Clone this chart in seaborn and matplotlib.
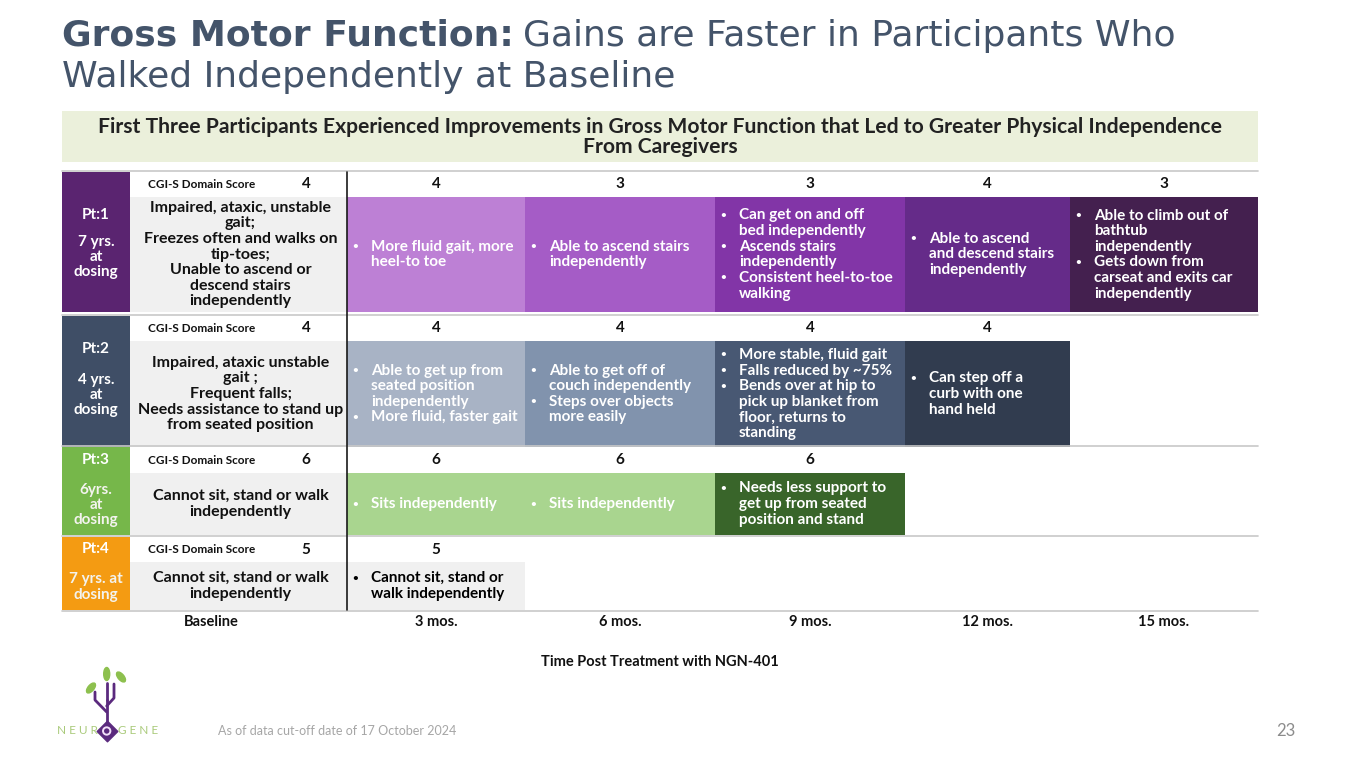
import matplotlib
matplotlib.use("Agg")
import matplotlib.pyplot as plt
import seaborn as sns
from matplotlib.patches import Ellipse

# ---- data ----
time_labels = ["Baseline", "3 mos.", "6 mos.", "9 mos.", "12 mos.", "15 mos."]

pt1_scores = [4, 4, 3, 3, 4, 3]
pt2_scores = [4, 4, 4, 4, 4]
pt3_scores = [6, 6, 6, 6]
pt4_scores = [5, 5]

pt_names = ["Pt:1", "Pt:2", "Pt:3", "Pt:4"]
pt_ages = ["7 yrs.\nat\ndosing", "4 yrs.\nat\ndosing", "6yrs.\nat\ndosing", "7 yrs. at\ndosing"]

pt1_baseline = "Impaired, ataxic, unstable\ngait;\nFreezes often and walks on\ntip-toes;\nUnable to ascend or\ndescend stairs\nindependently"
pt2_baseline = "Impaired, ataxic unstable\ngait ;\nFrequent falls;\nNeeds assistance to stand up\nfrom seated position"
pt3_baseline = "Cannot sit, stand or walk\nindependently"
pt4_baseline = "Cannot sit, stand or walk\nindependently"

pt1_notes = [
    ["More fluid gait, more\nheel-to toe"],
    ["Able to ascend stairs\nindependently"],
    ["Can get on and off\nbed independently", "Ascends stairs\nindependently", "Consistent heel-to-toe\nwalking"],
    ["Able to ascend\nand descend stairs\nindependently"],
    ["Able to climb out of\nbathtub\nindependently", "Gets down from\ncarseat and exits car\nindependently"],
]
pt2_notes = [
    ["Able to get up from\nseated position\nindependently", "More fluid, faster gait"],
    ["Able to get off of\ncouch independently", "Steps over objects\nmore easily"],
    ["More stable, fluid gait", "Falls reduced by ~75%", "Bends over at hip to\npick up blanket from\nfloor, returns to\nstanding"],
    ["Can step off a\ncurb with one\nhand held"],
]
pt3_notes = [
    ["Sits independently"],
    ["Sits independently"],
    ["Needs less support to\nget up from seated\nposition and stand"],
]
pt4_notes = [
    ["Cannot sit, stand or\nwalk independently"],
]

pt_colors = ["#5A2470", "#3F4E66", "#76B74A", "#F49B12"]
pt1_cell_colors = ["#BD80D5", "#A55CC6", "#8235A7", "#652B89", "#44204F"]
pt2_cell_colors = ["#A8B3C5", "#8193AD", "#485873", "#313C4F"]
pt3_cell_colors = ["#A9D58F", "#A9D58F", "#39652A"]
pt4_cell_colors = ["#F0F0F0"]
pt1_text_colors = ["white"] * 5
pt2_text_colors = ["white"] * 4
pt3_text_colors = ["white"] * 3
pt4_text_colors = ["black"]

# ---- layout (pixels) ----
W, H = 1365, 768
col_edges = [130, 347, 525, 715, 905, 1070, 1258]
label_left = 62
row_bands = [(172, 197, 312), (316, 341, 447), (447, 473, 535), (537, 562, 610)]
name_y = [215, 349, 460, 549]
age_y = [257, 395, 505, 587]

sns.set_theme(style="white")
plt.rcParams["font.family"] = ["Lato", "DejaVu Sans"]

fig = plt.figure(figsize=(W / 100, H / 100), dpi=100)
ax = fig.add_axes([0, 0, 1, 1])
ax.set_xlim(0, W)
ax.set_ylim(H, 0)
ax.axis("off")

# title
title_col = "#44546A"
title_fs = 26
t1 = ax.text(62, 36, "Gross Motor Function:", fontsize=title_fs, fontweight="bold",
             color=title_col, va="center", ha="left", family="DejaVu Sans")
fig.canvas.draw()
bb = t1.get_window_extent()
ax.text(62 + bb.width + 9, 36, "Gains are Faster in Participants Who", fontsize=title_fs,
        color=title_col, va="center", ha="left", family="DejaVu Sans")
ax.text(62, 77, "Walked Independently at Baseline", fontsize=title_fs,
        color=title_col, va="center", ha="left", family="DejaVu Sans")

# subtitle band
ax.bar(62, 51, width=1258 - 62, bottom=111, align="edge", color="#EBF0DB", linewidth=0)
ax.text(660, 137, "First Three Participants Experienced Improvements in Gross Motor Function that Led to Greater Physical Independence\nFrom Caregivers",
        ha="center", va="center", fontsize=15.2, fontweight="bold", color="#222222", linespacing=1.0)

all_scores = [pt1_scores, pt2_scores, pt3_scores, pt4_scores]
all_baseline = [pt1_baseline, pt2_baseline, pt3_baseline, pt4_baseline]
all_notes = [pt1_notes, pt2_notes, pt3_notes, pt4_notes]
all_cell_colors = [pt1_cell_colors, pt2_cell_colors, pt3_cell_colors, pt4_cell_colors]
all_text_colors = [pt1_text_colors, pt2_text_colors, pt3_text_colors, pt4_text_colors]

line_h = 15.6
body_fs = 11.0

for i in range(4):
    top, mid, bot = row_bands[i]
    # patient label block
    ax.bar(label_left, bot - top, width=col_edges[0] - label_left, bottom=top, align="edge",
           color=pt_colors[i], linewidth=0)
    ax.text(96, name_y[i], pt_names[i], ha="center", va="center",
            fontsize=11, fontweight="bold", color="white")
    ax.text(96, age_y[i], pt_ages[i], ha="center", va="center",
            fontsize=11, fontweight="bold", color="white" if i < 2 else "#F3F3EE", linespacing=1.1)

    # score row
    ax.text(148, (top + mid) / 2, "CGI-S Domain Score", ha="left", va="center",
            fontsize=8.5, fontweight="bold", color="#111111")
    scores = all_scores[i]
    ax.text(306, (top + mid) / 2, str(scores[0]), ha="center", va="center",
            fontsize=11, fontweight="bold", color="#111111")
    for j, s in enumerate(scores[1:]):
        cx = (col_edges[j + 1] + col_edges[j + 2]) / 2
        ax.text(cx, (top + mid) / 2, str(s), ha="center", va="center",
                fontsize=11, fontweight="bold", color="#111111")

    # baseline cell
    ax.bar(col_edges[0], bot - mid, width=col_edges[1] - col_edges[0], bottom=mid, align="edge",
           color="#F0F0F0", linewidth=0)
    ax.text((col_edges[0] + col_edges[1]) / 2 + 2, (mid + bot) / 2, all_baseline[i], ha="center", va="center",
            fontsize=11.5, fontweight="bold", color="#111111", linespacing=1.14)

    # follow-up cells
    for j, notes in enumerate(all_notes[i]):
        x0, x1 = col_edges[j + 1], col_edges[j + 2]
        ax.bar(x0, bot - mid, width=x1 - x0, bottom=mid, align="edge",
               color=all_cell_colors[i][j], linewidth=0)
        n_lines = sum(len(n.split("\n")) for n in notes)
        y = (mid + bot) / 2 - (n_lines - 1) / 2 * line_h
        tc = all_text_colors[i][j]
        for note in notes:
            ax.text(x0 + 8, y, "•", ha="center", va="center", fontsize=7,
                    fontweight="bold", color=tc)
            for ln in note.split("\n"):
                ax.text(x0 + 24, y, ln, ha="left", va="center", fontsize=body_fs,
                        fontweight="bold", color=tc)
                y += line_h

    # row separator
    ax.plot([label_left, 1258], [top - 1.5, top - 1.5], color="#C8C8C8", lw=1.2)

ax.plot([label_left, 1258], [610.5, 610.5], color="#C8C8C8", lw=1.2)
ax.plot([347, 347], [172, 610], color="#1A1A1A", lw=1.2)

# time axis labels
for k, lab in enumerate(time_labels):
    cx = 211 if k == 0 else (col_edges[k] + col_edges[k + 1]) / 2
    ax.text(cx, 622, lab, ha="center", va="center", fontsize=10.5, fontweight="bold", color="#111111")
ax.text(660, 662, "Time Post Treatment with NGN-401", ha="center", va="center",
        fontsize=10.5, fontweight="bold", color="#111111")

# footer
ax.text(218, 731, "As of data cut-off date of 17 October 2024", ha="left", va="center",
        fontsize=9, color="#A6A6A6")
ax.text(1295, 731, "23", ha="right", va="center", fontsize=12, color="#8C8C8C")

# logo
purple = "#5B2A7E"
leaf = "#8DC04E"
ax.plot([106.7, 106.7], [724, 700], color=purple, lw=2)
ax.plot([106.7, 95, 95], [712, 700, 692], color=purple, lw=2)
ax.plot([106.7, 106.7], [700, 683], color=purple, lw=2)
ax.plot([106.7, 114, 114], [706, 698, 684], color=purple, lw=2)
ax.add_patch(Ellipse((91, 688), 6, 12, angle=40, color=leaf))
ax.add_patch(Ellipse((106.7, 674), 6, 13, angle=0, color=leaf))
ax.add_patch(Ellipse((121, 677), 6, 12, angle=-40, color=leaf))
ax.scatter([106.7], [731], marker="D", s=110, color=purple, zorder=3)
ax.scatter([106.7], [731], marker="o", s=28, facecolor="none", edgecolor="#F2E0F8", linewidth=1.4, zorder=4)
ax.text(77, 731, "N E U R", ha="center", va="center", fontsize=8.5, color="#A9CA7A")
ax.text(138, 731, "G E N E", ha="center", va="center", fontsize=8.5, color="#A9CA7A")

fig.savefig("out.png", dpi=100)
